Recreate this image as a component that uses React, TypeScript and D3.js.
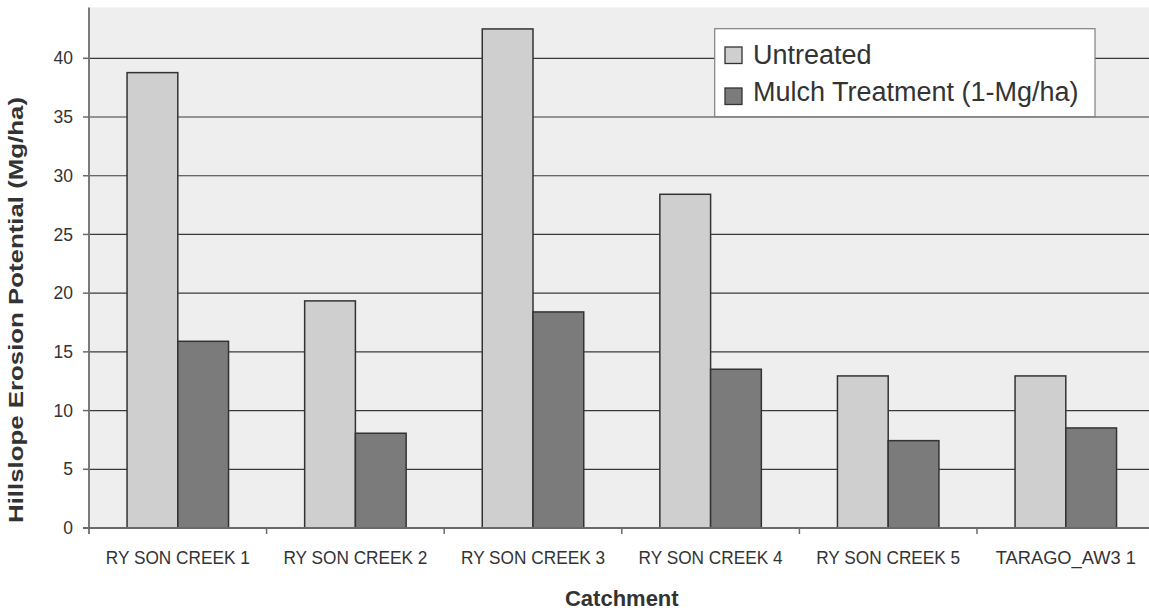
import React from "react";
import * as d3 from "d3";

const categories = ["RY SON CREEK 1", "RY SON CREEK 2", "RY SON CREEK 3", "RY SON CREEK 4", "RY SON CREEK 5", "TARAGO_AW3 1"];
const untreated = [38.78, 19.34, 42.5, 28.42, 12.95, 12.95];
const mulch = [15.9, 8.07, 18.4, 13.52, 7.44, 8.52];
const yTicks = [0, 5, 10, 15, 20, 25, 30, 35, 40];
const seriesNames = ["Untreated", "Mulch Treatment (1-Mg/ha)"];
const seriesColors = ["#cfcfcf", "#7b7b7b"];

const W = 1149;
const H = 610;
const plotLeft = 89;
const plotRight = 89 + 6 * 177.6;
const plotTop = 7.5;
const plotBottom = 528;
const FONT = "'Liberation Sans', Arial, sans-serif";

export default function App() {
  const x = d3.scaleBand<string>().domain(categories).range([plotLeft, plotRight]).paddingInner(0).paddingOuter(0);
  const y = d3.scaleLinear().domain([0, 45]).range([plotBottom, plotBottom - 45 * 11.7425]);
  const bw = x.bandwidth() / 3.5;
  const series = [untreated, mulch];

  return (
    <svg width={W} height={H} style={{ position: "absolute", left: 0, top: 0, background: "#fff" }} fontFamily={FONT}>
      <rect x={plotLeft} y={plotTop} width={plotRight - plotLeft} height={plotBottom - plotTop} fill="#eeeeee" />
      {yTicks.filter((t) => t > 0).map((t) => (
        <line key={t} x1={plotLeft} x2={plotRight} y1={y(t)} y2={y(t)} stroke="#3a3a3a" strokeWidth={1.2} />
      ))}
      {categories.map((c, i) => {
        const cx = (x(c) as number) + x.bandwidth() / 2;
        return series.map((s, j) => (
          <rect
            key={c + j}
            x={cx - bw + j * bw}
            y={y(s[i])}
            width={bw}
            height={y(0) - y(s[i])}
            fill={seriesColors[j]}
            stroke="#333"
            strokeWidth={1.5}
          />
        ));
      })}
      {/* axes */}
      <line x1={plotLeft} x2={plotLeft} y1={plotTop} y2={plotBottom + 6} stroke="#7a7a7a" strokeWidth={2} />
      <line x1={plotLeft - 6} x2={plotRight} y1={plotBottom} y2={plotBottom} stroke="#6a6a6a" strokeWidth={2} />
      {yTicks.map((t) => (
        <g key={t}>
          <line x1={plotLeft - 6} x2={plotLeft} y1={y(t)} y2={y(t)} stroke="#6a6a6a" strokeWidth={1.5} />
          <text x={73} y={y(t)} dy="0.35em" textAnchor="end" fontSize={17.5} fill="#333">{t}</text>
        </g>
      ))}
      {categories.map((c, i) => (
        <g key={c}>
          <line x1={(x(c) as number) + x.bandwidth()} x2={(x(c) as number) + x.bandwidth()} y1={plotBottom} y2={plotBottom + 6} stroke="#6a6a6a" strokeWidth={1.5} />
          <text
            x={(x(c) as number) + x.bandwidth() / 2}
            y={564}
            textAnchor="middle"
            fontSize={19}
            fill="#333"
            textLength={c.startsWith("TARAGO") ? 140 : 144}
            lengthAdjust="spacingAndGlyphs"
          >
            {c}
          </text>
        </g>
      ))}
      <text x={(plotLeft + plotRight) / 2} y={606} textAnchor="middle" fontSize={22} fontWeight="bold" fill="#333">Catchment</text>
      <text transform="translate(23,310) rotate(-90)" textAnchor="middle" fontSize={21} fontWeight="bold" fill="#333" textLength={426} lengthAdjust="spacingAndGlyphs">
        Hillslope Erosion Potential (Mg/ha)
      </text>
      {/* legend */}
      <rect x={714.7} y={28.7} width={380.3} height={88} fill="#fff" stroke="#808080" strokeWidth={1.2} />
      {seriesNames.map((n, j) => (
        <g key={n}>
          <rect x={725} y={47 + j * 41} width={17} height={16.5} fill={seriesColors[j]} stroke="#333" strokeWidth={1.3} />
          <text x={753} y={64 + j * 37} fontSize={27} fill="#333">{n}</text>
        </g>
      ))}
    </svg>
  );
}
